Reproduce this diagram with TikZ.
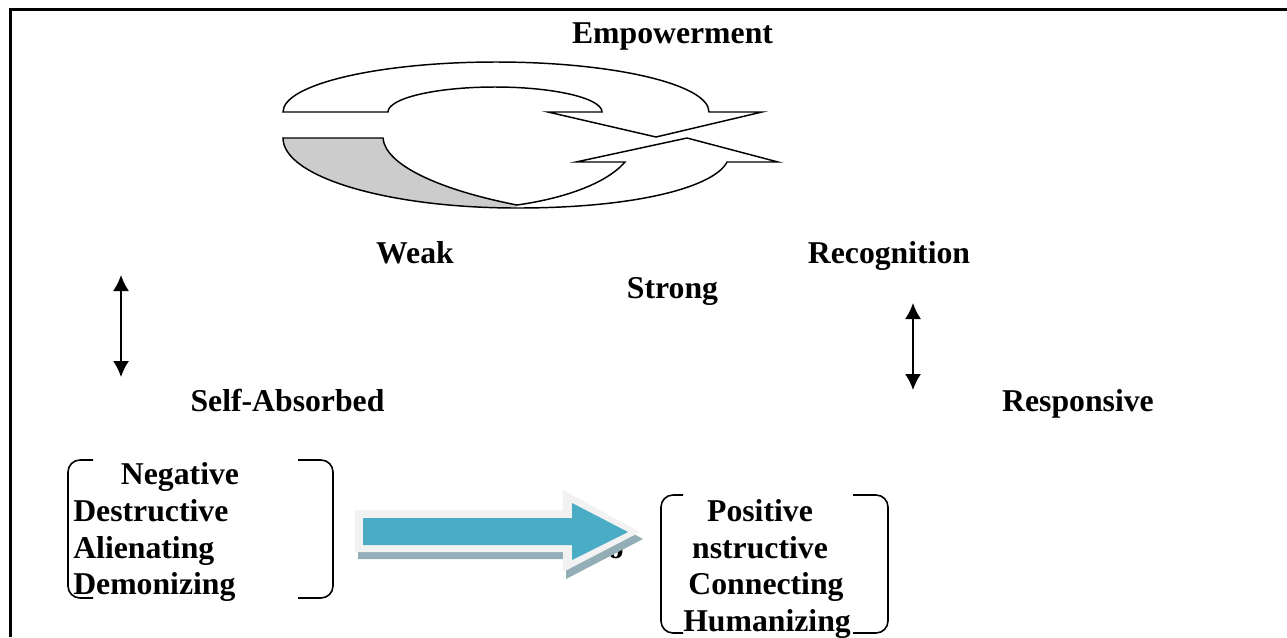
\documentclass[tikz,border=0pt]{standalone}
\usepackage{fontspec}
\setmainfont{Liberation Serif}
\usetikzlibrary{arrows.meta}
\definecolor{arrowblue}{HTML}{4BACC6}
\definecolor{arrowrim}{HTML}{F2F2F2}
\definecolor{arrowshadow}{HTML}{93AEB6}
\definecolor{backgray}{HTML}{CCCCCC}
\tikzset{
  lbl/.style={inner sep=0pt, anchor=base, font=\fontsize{23.8}{27.5}\selectfont\bfseries},
  lbll/.style={lbl, anchor=base west},
  brk/.style={line width=1.2pt, rounded corners=9pt},
  dbl/.style={line width=1.2pt, {Latex[length=12pt,width=12pt]}-{Latex[length=12pt,width=12pt]}},
  ribbon/.style={line width=1.1pt, line join=miter}
}
\begin{document}
\begin{tikzpicture}[x=0.75pt,y=-0.75pt]
\useasboundingbox (0,0) rectangle (1287,637);
% frame
\draw[line width=1.8pt] (10.5,637) -- (10.5,9.5) -- (1287,9.5);

% circular arrow (lower ribbon)
\fill[backgray] (283,138) .. controls (283,177) and (388,208) .. (517,208)
  -- (517,205) .. controls (440,190) and (385,165) .. (383,138) -- cycle;
\draw[ribbon] (283,138) .. controls (283,177) and (388,208) .. (517,208)
  .. controls (640,208) and (715,186) .. (727,162)
  -- (778,162) -- (687,138) -- (576,162) -- (625,162)
  .. controls (605,185) and (560,199) .. (517,205)
  .. controls (440,190) and (385,165) .. (383,138) -- cycle;
% upper ribbon
\draw[ribbon] (283,112) .. controls (283,84.4) and (378.4,62) .. (496,62)
  .. controls (613.6,62) and (709,84.4) .. (709,112)
  -- (762,112) -- (656,137) -- (548,112) -- (602,112)
  .. controls (602,98.2) and (554,87) .. (495,87)
  .. controls (436,87) and (388,98.2) .. (388,112) -- cycle;

% labels
\node[lbl] (emp) at (672.5,43) {Empowerment};
\node[lbl] (weak) at (415,263) {Weak};
\node[lbl] (rec) at (889,263) {Recognition};
\node[lbl] (strong) at (672.5,298) {Strong};
\node[lbl] (self) at (287.5,411) {Self-Absorbed};
\node[lbl] (resp) at (1078,411) {Responsive};

% double arrows
\coordinate (la) at (121,275);
\coordinate (lb) at (121,377);
\draw[dbl] (la) -- (lb);
\coordinate (ra) at (913,303);
\coordinate (rb) at (913,390);
\draw[dbl] (ra) -- (rb);

% left box
\draw[brk] (93,460) -- (68,460) -- (68,598) -- (93,598);
\draw[brk] (298,460) -- (333,460) -- (333,598) -- (298,598);
\node[lbl] (neg) at (180,484) {Negative};
\node[lbll] (des) at (73,521) {Destructive};
\node[lbll] (ali) at (73,558) {Alienating};
\node[lbll] (dem) at (73,594) {Demonizing};

% hidden text behind arrow
\node[lbl, anchor=base east] (co) at (624,558) {Co};

% block arrow
\fill[arrowshadow] (358,517) -- (566,517) -- (566,497) -- (643,539) -- (566,579) -- (566,559) -- (358,559) -- cycle;
\fill[arrowrim] (355,510) -- (563,510) -- (563,490) -- (640,532) -- (563,572) -- (563,552) -- (355,552) -- cycle;
\fill[arrowblue] (363,518) -- (572,518) -- (572,503) -- (628,532) -- (572,560) -- (572,545) -- (363,545) -- cycle;

% right box
\draw[brk] (683,495) -- (661,495) -- (661,633) -- (683,633);
\draw[brk] (853,495) -- (888,495) -- (888,633) -- (853,633);
\node[lbl] (pos) at (760,521) {Positive};
\node[lbl] (cons) at (760,558) {nstructive};
\node[lbl] (conn) at (766,594) {Connecting};
\node[lbl] (hum) at (767,631) {Humanizing};
\end{tikzpicture}
\end{document}
